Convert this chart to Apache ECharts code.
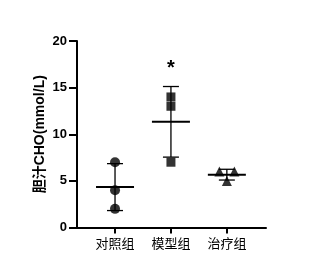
<!DOCTYPE html>
<html><head><meta charset="utf-8">
<script src="https://cdn.jsdelivr.net/npm/echarts@6/dist/echarts.min.js"></script>
<style>html,body{margin:0;padding:0;background:#fff}#c{width:326px;height:278px}</style>
</head><body><div id="c"></div>
<script>
const categories = ['对照组', '模型组', '治疗组'];
const controlValues = [7, 4, 2];
const modelValues = [14, 13, 7];
const treatmentValues = [6, 6, 5];
const symbols = ['circle', 'rect', 'triangle'];
const significance = ['', '*', ''];
const yTicks = [0, 5, 10, 15, 20];

const groups = [controlValues, modelValues, treatmentValues];
function mean(a){return a.reduce((s,v)=>s+v,0)/a.length;}
function sd(a){const m=mean(a);return Math.sqrt(a.reduce((s,v)=>s+(v-m)*(v-m),0)/(a.length-1));}
const stats = groups.map((g,i)=>({x:i+1, m:mean(g), s:sd(g)}));

const scatterSeries = groups.map((g,i)=>{
  const data = g.map((v,j)=>{
    const dups = g.filter(w=>w===v).length;
    let off = 0;
    if (dups>1){ const k = g.slice(0,j).filter(w=>w===v).length; off = (k - (dups-1)/2)*15; }
    return {value:[i+1, v], symbolOffset:[off, 0]};
  });
  return {type:'scatter', xAxisIndex:0, yAxisIndex:0, symbol:symbols[i],
    symbolSize: i===1 ? 9 : 10, itemStyle:{color:'#000'}, data, z:3};
});

const chart = echarts.init(document.getElementById('c'));
chart.setOption({
  animation:false,
  grid:[{left:77, right:60, top:41, bottom:50.5},
        {left:87, width:168, top:41, bottom:50.5}],
  xAxis:[
    {type:'value', gridIndex:0, min:0.32, max:3.7, splitLine:{show:false},
     axisLine:{lineStyle:{color:'#000', width:2}}, axisTick:{show:false}, axisLabel:{show:false}},
    {type:'category', gridIndex:1, data:categories, position:'bottom',
     axisLine:{show:false}, axisTick:{show:true, alignWithLabel:true, length:6, lineStyle:{color:'#000', width:2}},
     axisLabel:{color:'#000', fontSize:13, margin:9, fontFamily:'Noto Sans CJK SC'}}
  ],
  yAxis:[
    {type:'value', gridIndex:0, min:yTicks[0], max:yTicks[yTicks.length-1], interval:5,
     name:'胆汁CHO(mmol/L)', nameLocation:'middle', nameGap:30, nameMoveOverlap:false,
     nameTextStyle:{color:'#000', fontSize:14, fontWeight:'bold', fontFamily:'Liberation Sans, Noto Sans CJK SC'},
     splitLine:{show:false},
     axisLine:{show:true, lineStyle:{color:'#000', width:2}},
     axisTick:{show:true, length:8, lineStyle:{color:'#000', width:2}},
     axisLabel:{color:'#000', fontSize:13, fontWeight:'bold', margin:10, fontFamily:'Liberation Sans'}},
    {type:'value', gridIndex:1, min:0, max:20, show:false}
  ],
  series:[
    ...scatterSeries,
    {type:'custom', xAxisIndex:0, yAxisIndex:0, z:4,
     data: stats.map(s=>[s.x, s.m, s.s]),
     renderItem:function(params, api){
       const x=api.value(0), m=api.value(1), s=api.value(2);
       const pm=api.coord([x,m]), pt=api.coord([x,m+s]), pb=api.coord([x,m-s]);
       const st={stroke:'#000', lineWidth:1.3};
       return {type:'group', children:[
         {type:'line', shape:{x1:pm[0], y1:pt[1], x2:pm[0], y2:pb[1]}, style:st},
         {type:'line', shape:{x1:pm[0]-8, y1:pt[1], x2:pm[0]+8, y2:pt[1]}, style:st},
         {type:'line', shape:{x1:pm[0]-8, y1:pb[1], x2:pm[0]+8, y2:pb[1]}, style:st},
         {type:'line', shape:{x1:pm[0]-19, y1:pm[1], x2:pm[0]+19, y2:pm[1]}, style:{stroke:'#000', lineWidth:2}}
       ]};
     }},
    {type:'custom', xAxisIndex:0, yAxisIndex:0, z:5,
     data: stats.map((s,i)=>[s.x, s.m+s.s, i]),
     renderItem:function(params, api){
       const p=api.coord([api.value(0), api.value(1)]);
       const t=significance[api.value(2)];
       return {type:'text', x:p[0], y:p[1]-8, style:{text:t, fill:'#000', fontSize:20, fontWeight:'bold',
         fontFamily:'Liberation Sans', align:'center', verticalAlign:'bottom'}};
     }}
  ]
});
</script></body></html>
